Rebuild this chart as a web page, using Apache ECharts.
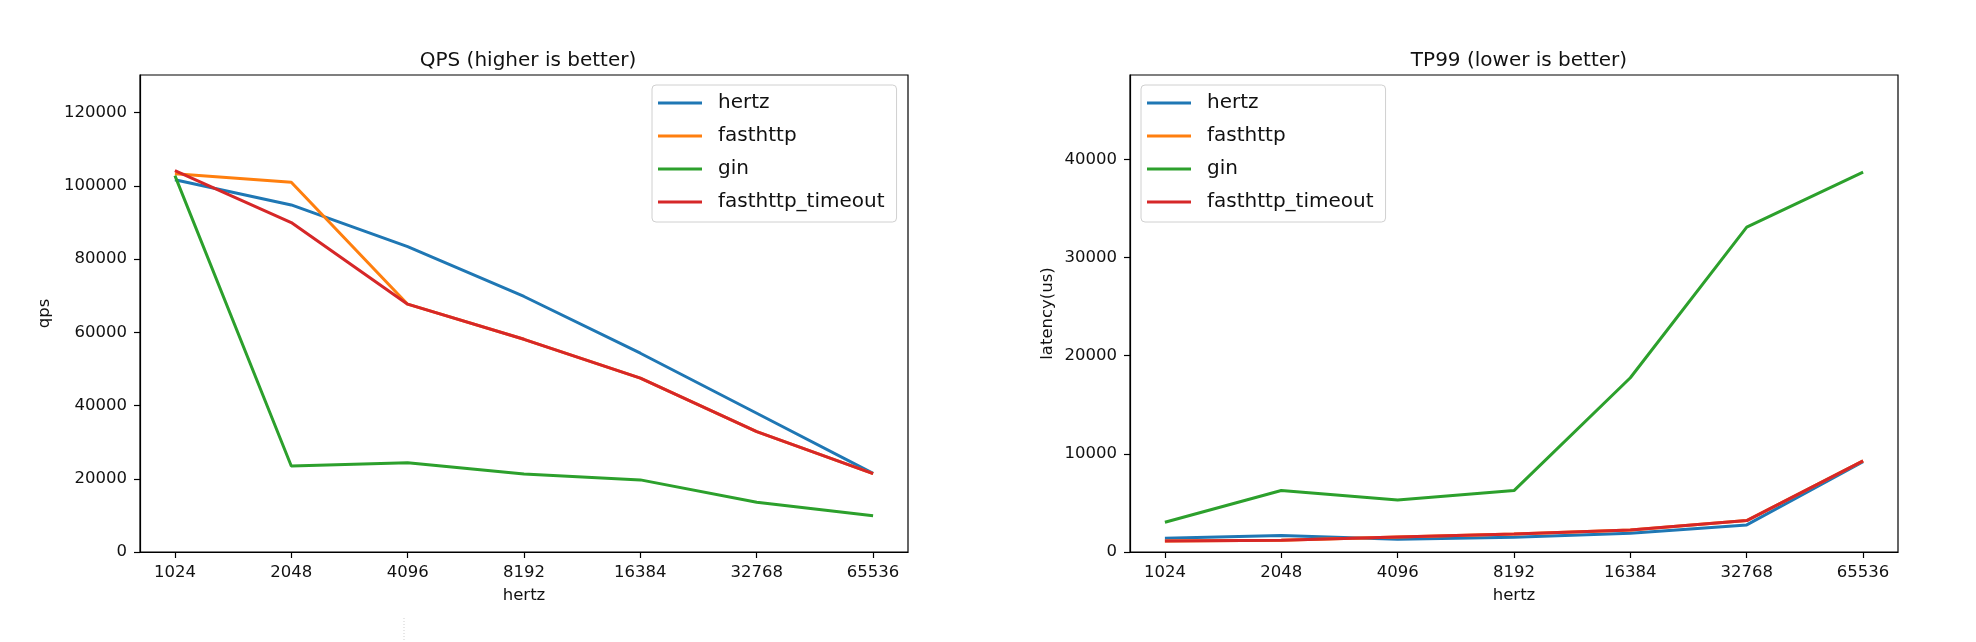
<!DOCTYPE html>
<html>
<head>
<meta charset="utf-8">
<script src="https://cdn.jsdelivr.net/npm/echarts@6/dist/echarts.min.js"></script>
<style>
html,body{margin:0;padding:0;background:#fff;}
#chart{width:1976px;height:642px;}
</style>
</head>
<body>
<div id="chart"></div>
<script>
const categories = ['1024','2048','4096','8192','16384','32768','65536'];
const seriesNames = ['hertz','fasthttp','gin','fasthttp_timeout'];

// QPS (higher is better)
const qpsHertz    = [101700, 94800, 83400, 69800, 54300, 37900, 21500];
const qpsFasthttp = [103300, 101000, 67700, 58100, 47500, 32900, 21400];
const qpsGin      = [102800, 23500, 24400, 21300, 19700, 13600, 9900];
const qpsTimeout  = [104200, 90000, 67700, 58100, 47500, 32900, 21400];

// TP99 latency (lower is better)
const tpHertz    = [1400, 1670, 1300, 1500, 1900, 2760, 9200];
const tpFasthttp = [1120, 1190, 1530, 1840, 2240, 3200, 9290];
const tpGin      = [3030, 6260, 5310, 6260, 17750, 33100, 38700];
const tpTimeout  = [1120, 1190, 1530, 1840, 2240, 3200, 9290];

const colors = ['#1f77b4','#ff7f0e','#2ca02c','#d62728'];
const FONT = 'DejaVu Sans';
const TXT = '#111';

const toPts = arr => arr.map((v, i) => [i, v]);
const idx = categories.map((c, i) => i);

function xAxis(gridIndex) {
  return {
    type: 'value', gridIndex, min: -0.3, max: 6.3,
    name: 'hertz', nameLocation: 'middle', nameGap: 35,
    nameTextStyle: {fontFamily: FONT, fontSize: 16.5, color: TXT},
    axisLine: {show: true, onZero: false, lineStyle: {color: '#000', width: 1.2}},
    axisTick: {show: true, inside: false, length: 6, customValues: idx, lineStyle: {color: '#000', width: 1.2}},
    axisLabel: {show: true, margin: 12, customValues: idx, fontFamily: FONT, fontSize: 16.5, color: TXT,
      formatter: v => categories[Math.round(v)] || ''},
    splitLine: {show: false}
  };
}
function yAxis(gridIndex, max, interval, name, gap) {
  return {
    type: 'value', gridIndex, min: 0, max, interval,
    name, nameLocation: 'middle', nameGap: gap, nameRotate: 90,
    nameTextStyle: {fontFamily: FONT, fontSize: 16.5, color: TXT},
    axisLine: {show: true, onZero: false, lineStyle: {color: '#000', width: 1.2}},
    axisTick: {show: true, inside: false, length: 6, lineStyle: {color: '#000', width: 1.2}},
    axisLabel: {margin: 13, fontFamily: FONT, fontSize: 16.5, color: TXT, showMaxLabel: false,
      formatter: v => String(v)},
    splitLine: {show: false}
  };
}
function legend(left) {
  return {
    orient: 'vertical', left, top: 85,
    data: seriesNames,
    icon: 'rect', itemWidth: 44, itemHeight: 3, itemGap: 13,
    padding: [8, 12, 10, 6],
    borderColor: '#d0d0d0', borderWidth: 1, borderRadius: 4,
    backgroundColor: 'rgba(255,255,255,0.8)',
    textStyle: {fontFamily: FONT, fontSize: 20, color: TXT, lineHeight: 20, padding: [0, 0, 0, 11]},
    selectedMode: false
  };
}
function mkSeries(gridIdx, arrays) {
  return arrays.map((arr, k) => ({
    type: 'line', name: seriesNames[k], xAxisIndex: gridIdx, yAxisIndex: gridIdx,
    data: toPts(arr), showSymbol: false, symbol: 'none',
    lineStyle: {width: 3, color: colors[k]}, itemStyle: {color: colors[k]},
    z: 2 + k, silent: true
  }));
}

const chart = echarts.init(document.getElementById('chart'), null, {renderer: 'canvas'});
chart.setOption({
  animation: false,
  backgroundColor: '#fff',
  color: colors,
  title: [
    {text: 'QPS (higher is better)', left: 523, top: 46, textAlign: 'center',
     textStyle: {fontFamily: FONT, fontSize: 20, fontWeight: 'normal', color: TXT}},
    {text: 'TP99 (lower is better)', left: 1514, top: 46, textAlign: 'center',
     textStyle: {fontFamily: FONT, fontSize: 20, fontWeight: 'normal', color: TXT}}
  ],
  grid: [
    {left: 140, top: 75, width: 768, height: 477, show: true, borderColor: '#000', borderWidth: 1.2, backgroundColor: 'transparent'},
    {left: 1130, top: 75, width: 768, height: 477, show: true, borderColor: '#000', borderWidth: 1.2, backgroundColor: 'transparent'}
  ],
  xAxis: [xAxis(0), xAxis(1)],
  yAxis: [yAxis(0, 130300, 20000, 'qps', 87), yAxis(1, 48600, 10000, 'latency(us)', 74)],
  legend: [legend(652), legend(1141)],
  series: [
    ...mkSeries(0, [qpsHertz, qpsFasthttp, qpsGin, qpsTimeout]),
    ...mkSeries(1, [tpHertz, tpFasthttp, tpGin, tpTimeout])
  ],
  graphic: [{
    type: 'line', shape: {x1: 404, y1: 618, x2: 404, y2: 642},
    style: {stroke: '#cfcfcf', lineWidth: 1, lineDash: [1, 2]}
  }]
});
</script>
</body>
</html>
